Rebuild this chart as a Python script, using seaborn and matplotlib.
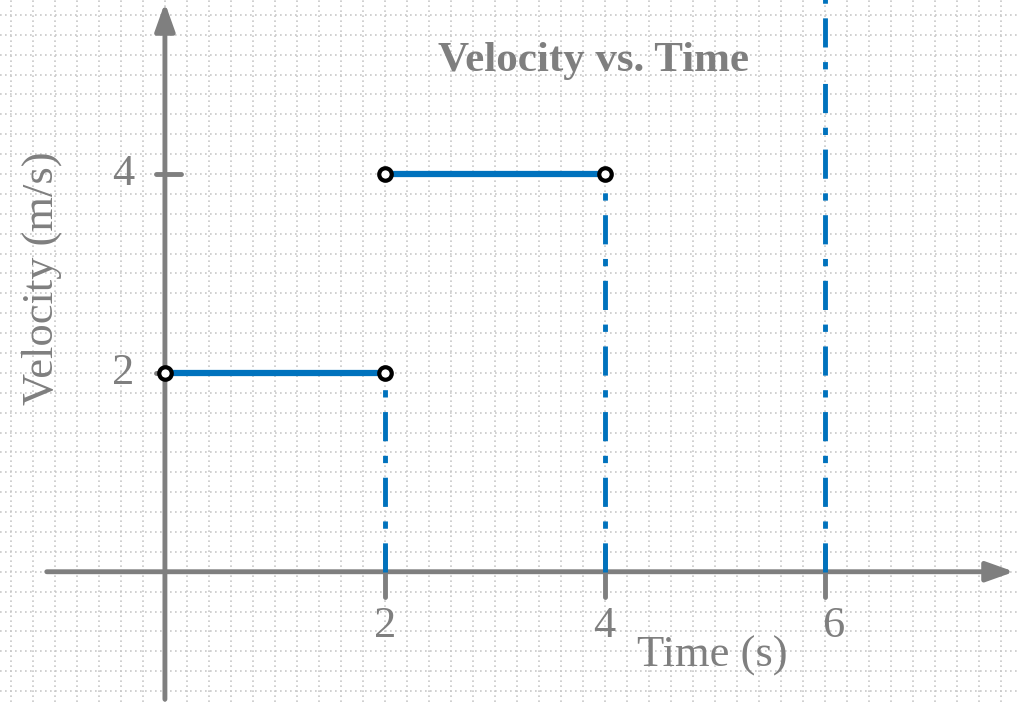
import matplotlib
matplotlib.use("Agg")
import matplotlib.pyplot as plt
import seaborn as sns
import numpy as np

sns.set_theme(style="white")
plt.rcParams['font.family'] = ['Liberation Serif', 'DejaVu Serif']

t_start = [0, 2, 4]
t_end = [2, 4, 6]
velocity = [2, 4, 6]
x_ticks = [2, 4, 6]
y_ticks = [2, 4, 6]

gray = '#7f7f7f'
blue = '#0072BD'

fig = plt.figure(figsize=(10.17, 7.02), dpi=100)
ax = fig.add_axes([0, 0, 1, 1])
for s in ax.spines.values():
    s.set_visible(False)

# dotted grid
for gx in np.arange(-1.4, 7.8, 0.2):
    ax.axvline(gx, color='#c8c8c8', lw=1.2, ls=(0, (1, 2)), zorder=0)
for gy in np.arange(-1.2, 5.8, 0.2):
    ax.axhline(gy, color='#c8c8c8', lw=1.2, ls=(0, (1, 2)), zorder=0)

# vertical dash-dot lines
for te, v in zip(t_end, velocity):
    ax.plot([te, te], [0, v], color=blue, lw=3.5, ls=(0, (6, 3, 1.5, 3)), zorder=3)

# horizontal segments
for a, b, v in zip(t_start, t_end, velocity):
    sns.lineplot(x=[a, b], y=[v, v], color=blue, lw=4.5, ax=ax, zorder=4)
    ax.plot([a, b], [v, v], ls='none', marker='o', ms=9, mfc='white', mec='black', mew=3, zorder=5)

ax.set_xlim(-1.5, 7.75)
ax.set_ylim(-1.31, 5.75)
ax.set_xticks([]); ax.set_yticks([])
ax.set_xlabel(''); ax.set_ylabel('')

# axes with arrows
ax.annotate('', xy=(7.75, 0), xytext=(-1.1, 0),
            arrowprops=dict(arrowstyle='-|>,head_length=1.4,head_width=0.5', color=gray, lw=3.5), zorder=2)
ax.annotate('', xy=(0, 5.75), xytext=(0, -1.31),
            arrowprops=dict(arrowstyle='-|>,head_length=1.4,head_width=0.5', color=gray, lw=3.5), zorder=2)

for xt in x_ticks:
    ax.plot([xt, xt], [-0.25, 0.25], color=gray, lw=3.5, zorder=2)
    ax.text(xt + (0.08 if xt == 6 else 0), -0.55, str(xt), ha='center', va='center', fontsize=32, color=gray)
for yt in y_ticks:
    ax.plot([-0.08, 0.15], [yt, yt], color=gray, lw=3.5, zorder=2)
    ax.text(-0.38, yt, str(yt), ha='center', va='center', fontsize=32, color=gray)

ax.text(3.9, 5.14, 'Velocity vs. Time', ha='center', va='center', fontsize=31, fontweight='bold', color=gray)
ax.text(-1.12, 2.95, 'Velocity (m/s)', rotation=90, ha='center', va='center', fontsize=32, color=gray)
ax.text(4.98, -0.85, 'Time (s)', ha='center', va='center', fontsize=32, color=gray)

fig.savefig('out.png', dpi=100)
